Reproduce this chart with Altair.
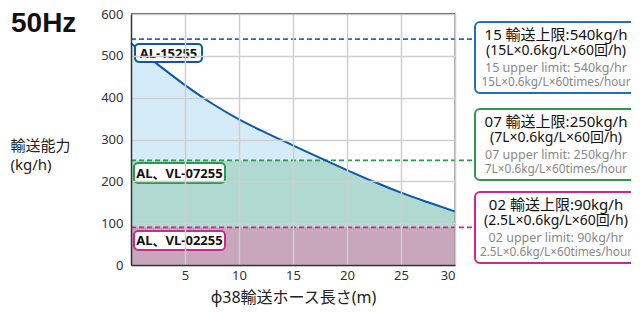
import altair as alt
import pandas as pd

# ---- data ----
hose_length = [0, 2.5, 5, 7.5, 10, 12.5, 15, 17.5, 20, 22.5, 25, 27.5, 30]
capacity_15 = [530, 479, 430, 386, 348, 316, 286, 256, 227, 199, 173, 150, 128]

limit_values = [540, 250, 90]
limit_colors = ["#1f6fbd", "#2a9b4c", "#d0278f"]
fill_colors = ["#d5ecf8", "#b0d9d1", "#c8a7bd"]
model_labels = ["AL-15255", "AL、VL-07255", "AL、VL-02255"]
line1 = ["15 輸送上限:540kg/h", "07 輸送上限:250kg/h", "02 輸送上限:90kg/h"]
line2 = ["(15L×0.6kg/L×60回/h)", "(7L×0.6kg/L×60回/h)", "(2.5L×0.6kg/L×60回/h)"]
line3 = ["15 upper limit: 540kg/hr", "07 upper limit: 250kg/hr", "02 upper limit: 90kg/hr"]
line4 = ["15L×0.6kg/L×60times/hour", "7L×0.6kg/L×60times/hour", "2.5L×0.6kg/L×60times/hour"]
x_ticks = [5, 10, 15, 20, 25, 30]
y_ticks = [0, 100, 200, 300, 400, 500, 600]

W, H = 324, 251
FONT = "Noto Sans, Noto Sans CJK JP"

df = pd.DataFrame({"x": hose_length, "cap": capacity_15})

xs = alt.X("x:Q", scale=alt.Scale(domain=[0, 30], nice=False),
           axis=alt.Axis(values=x_ticks, title="φ38輸送ホース長さ(m)", ticks=False,
                         labelPadding=4, labelFontSize=13, labelColor="#333",
                         titleFontSize=16, titleFontWeight="normal", titleColor="#222",
                         titlePadding=7, domainColor="#333", domainWidth=1.5,
                         gridColor="#cfcfcf", gridWidth=1.5, zindex=1, labelFont=FONT,
                         titleFont=FONT))
ys = alt.Y("cap:Q", scale=alt.Scale(domain=[0, 600], nice=False),
           axis=alt.Axis(values=y_ticks, title=["輸送能力", "(kg/h)"], ticks=False,
                         labelPadding=8, labelFontSize=13, labelColor="#333",
                         titleAngle=0, titleAlign="left", titleBaseline="middle",
                         titleX=-121, titleY=131, titleFontSize=15, titleFontWeight="normal",
                         titleColor="#222", titleLineHeight=19, domainColor="#333",
                         domainWidth=1.5, gridColor="#cfcfcf", gridWidth=1.5, zindex=1,
                         labelFont=FONT, titleFont=FONT))

base = alt.Chart(df)

blue_area = base.mark_area(color=fill_colors[0], interpolate="monotone").encode(
    x=xs, y=ys, y2=alt.Y2(datum=0))
green_band = base.mark_area(color=fill_colors[1]).encode(
    x="x:Q", y=alt.Y(datum=limit_values[1]), y2=alt.Y2(datum=0))
pink_band = base.mark_area(color=fill_colors[2]).encode(
    x="x:Q", y=alt.Y(datum=limit_values[2]), y2=alt.Y2(datum=0))
white_above = base.mark_area(color="white", interpolate="monotone").encode(
    x="x:Q", y="cap:Q", y2=alt.Y2(datum=600))

frame_top = alt.Chart().mark_rule(color="#222", strokeWidth=1.5).encode(
    x=alt.value(0), x2=alt.value(W), y=alt.value(0))
frame_right = alt.Chart().mark_rule(color="#888", strokeWidth=1.5).encode(
    x=alt.value(W), y=alt.value(0), y2=alt.value(H))

BOX_X1, BOX_X2 = 344, 506
box_tops = [8, 95, 178]
BOX_H = 71

layers = [blue_area, green_band, pink_band, white_above, frame_top, frame_right]

for i in range(3):
    layers.append(alt.Chart().mark_rule(color=limit_colors[i], strokeWidth=1.6,
                                        strokeDash=[5, 3]).encode(
        y=alt.Y(datum=limit_values[i]), x=alt.value(0), x2=alt.value(BOX_X1)))

curve = base.mark_line(color="#0b58a8", strokeWidth=2, interpolate="monotone").encode(
    x="x:Q", y="cap:Q")
layers.append(curve)

# model label boxes inside the plot
label_boxes = [(4, 71, 30, 48), (3, 94, 149, 169), (3, 94, 217, 236)]
label_colors = ["#0b58a8", "#2a9b4c", "#d0278f"]
for i, (x1, x2, y1, y2) in enumerate(label_boxes):
    layers.append(alt.Chart().mark_rect(fill="white", stroke=label_colors[i], strokeWidth=2,
                                        cornerRadius=4).encode(
        x=alt.value(x1), x2=alt.value(x2), y=alt.value(y1), y2=alt.value(y2)))
    layers.append(alt.Chart().mark_text(font=FONT, fontWeight="bold", fontSize=13,
                                        color="#111", baseline="middle", align="center").encode(
        x=alt.value((x1 + x2) / 2), y=alt.value((y1 + y2) / 2 + 0.5),
        text=alt.value(model_labels[i])))

# right-hand limit boxes
cx = (BOX_X1 + BOX_X2) / 2
for i in range(3):
    t = box_tops[i]
    layers.append(alt.Chart().mark_rect(fill="white", stroke=limit_colors[i], strokeWidth=2,
                                        cornerRadius=5).encode(
        x=alt.value(BOX_X1), x2=alt.value(BOX_X2), y=alt.value(t), y2=alt.value(t + BOX_H)))
    specs = [(line1[i], 15, "#111", 13), (line2[i], 14, "#111", 29),
             (line3[i], 12.5, "#888", 46), (line4[i], 11.8, "#888", 60)]
    for txt, fs, col, dy in specs:
        layers.append(alt.Chart().mark_text(font=FONT, fontSize=fs, color=col,
                                            baseline="middle", align="center").encode(
            x=alt.value(cx), y=alt.value(t + dy), text=alt.value(txt)))

# 50Hz heading
layers.append(alt.Chart().mark_text(font="Liberation Sans", fontWeight="bold", fontSize=28,
                                    color="#111", baseline="middle", align="left").encode(
    x=alt.value(-120), y=alt.value(10), text=alt.value("50Hz")))

chart = alt.layer(*layers).properties(
    width=W, height=H,
    autosize=alt.AutoSizeParams(type="none"),
    padding={"left": 123, "top": 6, "right": 176, "bottom": 46},
).configure_view(stroke=None)

chart.save("out.html", embed_options={"renderer": "svg", "actions": False})
